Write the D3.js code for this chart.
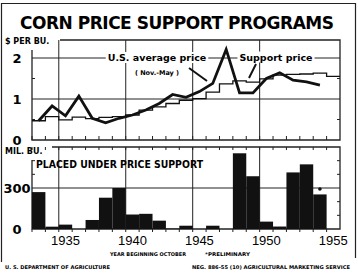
<!DOCTYPE html>
<html>
<head>
<meta charset="utf-8">
<script src="https://cdn.jsdelivr.net/npm/d3@7"></script>
<style>
  body { margin: 0; background: #fff; }
  svg { display: block; }
</style>
</head>
<body>
<div id="chart"></div>
<script>
var W = 358, H = 273;

// crop years, beginning October
var years = d3.range(1933, 1956);
// U.S. average price (Nov.-May), $ per bu., 1933-1954
var avgPrice = [0.47, 0.83, 0.59, 1.07, 0.53, 0.42, 0.53, 0.61, 0.73, 0.89, 1.11,
    1.04, 1.18, 1.38, 2.21, 1.15, 1.15, 1.50, 1.64, 1.46, 1.42, 1.34];
// support price, $ per bu., 1933-1955
var supportPrice = [0.47, 0.57, 0.49, 0.56, 0.52, 0.55, 0.57, 0.61, 0.73, 0.81, 0.89,
    0.97, 1.01, 1.17, 1.37, 1.44, 1.41, 1.49, 1.58, 1.60, 1.61, 1.63, 1.55];
// placed under price support, mil. bu., 1933-1954
var placed = [270, 17, 32, 0, 66, 229, 300, 106, 111, 61, 3,
    24, 0, 24, 0, 554, 386, 54, 18, 414, 473, 253];
var preliminaryYear = 1954;
var yearTicks = [1935, 1940, 1945, 1950, 1955];

var svg = d3.select('#chart').append('svg')
    .attr('width', W).attr('height', H)
    .style('font-family', '"DejaVu Sans", sans-serif');

var x = d3.scaleLinear().domain([1933, 1956]).range([32, 340]);
var yP = d3.scaleLinear().domain([0, 1]).range([140, 99]);
var yB = d3.scaleLinear().domain([0, 300]).range([229, 188]);

// outer frame
svg.append('path')
    .attr('d', 'M1.5,262 V3.5 H355.5 V258')
    .attr('fill', 'none').attr('stroke', '#222').attr('stroke-width', 1.2);

svg.append('text')
    .attr('x', 20).attr('y', 29)
    .attr('textLength', 314).attr('lengthAdjust', 'spacing')
    .style('font-size', '17px').style('font-weight', 'bold')
    .text('CORN PRICE SUPPORT PROGRAMS');

function frame(top, bottom, leftTop, topLeft) {
    var g = svg.append('g').attr('fill', 'none').attr('stroke', '#222');
    g.append('path')
        .attr('d', 'M' + x(1933) + ',' + leftTop + ' V' + bottom + ' H' + x(1956) +
            ' V' + top + ' H' + topLeft)
        .attr('stroke-width', 1.3);
    // major year grid
    g.selectAll('line.v').data([1935, 1940, 1945, 1950]).enter().append('line')
        .attr('x1', function (d) { return x(d); }).attr('x2', function (d) { return x(d); })
        .attr('y1', top).attr('y2', bottom).attr('stroke-width', 1);
    return g;
}

// ---------- price panel ----------
var gp = frame(40, 140, 50, 60);
gp.selectAll('line.t').data(years).enter().append('line')
    .attr('x1', function (d) { return x(d); }).attr('x2', function (d) { return x(d); })
    .attr('y1', 140).attr('y2', 136).attr('stroke-width', 1);
[0.5, 1.5].forEach(function (v) {
    gp.append('line').attr('x1', x(1933)).attr('x2', x(1933) + 3)
        .attr('y1', yP(v)).attr('y2', yP(v));
    gp.append('line').attr('x1', x(1956)).attr('x2', x(1956) - 3)
        .attr('y1', yP(v)).attr('y2', yP(v));
});
gp.append('line').attr('x1', x(1933)).attr('x2', x(1956))
    .attr('y1', yP(1)).attr('y2', yP(1)).attr('stroke-width', 1);
gp.append('line').attr('x1', x(1933)).attr('x2', x(1956))
    .attr('y1', yP(2)).attr('y2', yP(2)).attr('stroke-width', 1);

svg.append('text').attr('x', 5).attr('y', 44)
    .style('font-size', '8px').style('font-weight', 'bold').text('$ PER BU.');
[0, 1, 2].forEach(function (v) {
    svg.append('text').attr('x', 17).attr('y', yP(v) + 4.5)
        .attr('text-anchor', 'middle')
        .style('font-size', '13px').style('font-weight', 'bold').text(v);
});

// support price steps
var stepData = years.map(function (d, i) { return [d, supportPrice[i]]; });
stepData.push([1956, supportPrice[supportPrice.length - 1]]);
svg.append('path')
    .datum(stepData)
    .attr('fill', 'none').attr('stroke', '#111').attr('stroke-width', 1.3)
    .attr('d', d3.line().curve(d3.curveStepAfter)
        .x(function (d) { return x(d[0]); })
        .y(function (d) { return yP(d[1]); }));

// legend labels (white boxes break the grid line)
function label(txt, cx, cy, size, weight) {
    var t = svg.append('text').attr('x', cx).attr('y', cy)
        .attr('text-anchor', 'middle')
        .style('font-size', size + 'px').style('font-weight', weight).text(txt);
    var b = t.node().getBBox();
    svg.insert('rect', 'text:last-of-type')
        .attr('x', b.x - 2).attr('y', b.y).attr('width', b.width + 4).attr('height', b.height)
        .attr('fill', '#fff');
    t.raise();
    return t;
}
label('U.S. average price', 157, 61, 9.5, 'bold');
label('( Nov.-May )', 157, 74.5, 6.5, 'bold');
label('Support price', 276, 60.5, 9.5, 'bold');
svg.append('line').attr('x1', 189).attr('y1', 68).attr('x2', 207).attr('y2', 81)
    .attr('stroke', '#111').attr('stroke-width', 2);
svg.append('line').attr('x1', 256).attr('y1', 64).attr('x2', 249).attr('y2', 78)
    .attr('stroke', '#111').attr('stroke-width', 2);

// average price line
svg.append('path')
    .datum(avgPrice)
    .attr('fill', 'none').attr('stroke', '#111').attr('stroke-width', 2.8)
    .attr('stroke-linejoin', 'miter')
    .attr('d', d3.line()
        .x(function (d, i) { return x(years[i] + 0.5); })
        .y(function (d) { return yP(d); }));

// ---------- placed under support panel ----------
var gb = frame(147, 229, 160, 52);
gb.selectAll('line.t').data(years).enter().append('line')
    .attr('x1', function (d) { return x(d); }).attr('x2', function (d) { return x(d); })
    .attr('y1', 147).attr('y2', 150).attr('stroke-width', 1);
gb.selectAll('line.b').data(years).enter().append('line')
    .attr('x1', function (d) { return x(d); }).attr('x2', function (d) { return x(d); })
    .attr('y1', 229).attr('y2', 232).attr('stroke-width', 1);
[100, 200, 400, 500].forEach(function (v) {
    gb.append('line').attr('x1', x(1933)).attr('x2', x(1933) + 3)
        .attr('y1', yB(v)).attr('y2', yB(v));
    gb.append('line').attr('x1', x(1956)).attr('x2', x(1956) - 3)
        .attr('y1', yB(v)).attr('y2', yB(v));
});
gb.append('line').attr('x1', x(1933)).attr('x2', x(1956))
    .attr('y1', yB(300)).attr('y2', yB(300)).attr('stroke-width', 1);

svg.append('text').attr('x', 5).attr('y', 154)
    .style('font-size', '8px').style('font-weight', 'bold').text('MIL. BU.');
svg.append('text').attr('x', 36).attr('y', 168)
    .attr('textLength', 167).attr('lengthAdjust', 'spacingAndGlyphs')
    .style('font-size', '10px').style('font-weight', 'bold')
    .text('PLACED UNDER PRICE SUPPORT');
svg.append('text').attr('x', 17).attr('y', yB(300) + 4.5).attr('text-anchor', 'middle')
    .style('font-size', '13px').style('font-weight', 'bold').text('300');
svg.append('text').attr('x', 17).attr('y', yB(0) + 4.5).attr('text-anchor', 'middle')
    .style('font-size', '13px').style('font-weight', 'bold').text('0');

svg.selectAll('rect.bar').data(placed).enter().append('rect')
    .attr('class', 'bar')
    .attr('x', function (d, i) { return x(years[i]); })
    .attr('width', x(1934) - x(1933))
    .attr('y', function (d) { return yB(d); })
    .attr('height', function (d) { return yB(0) - yB(d); })
    .attr('fill', '#111');

svg.append('circle')
    .attr('cx', x(preliminaryYear + 0.5)).attr('cy', yB(300) + 1).attr('r', 1.8)
    .attr('fill', '#111');

// year labels
svg.selectAll('text.yr').data(yearTicks).enter().append('text')
    .attr('x', function (d) { return x(d + 0.5); }).attr('y', 245)
    .attr('text-anchor', 'middle')
    .style('font-family', '"Liberation Sans", sans-serif')
    .style('font-size', '13px').text(function (d) { return d; });

function small(txt, x0, y0, len) {
    svg.append('text').attr('x', x0).attr('y', y0)
        .attr('textLength', len).attr('lengthAdjust', 'spacingAndGlyphs')
        .style('font-size', '5px').style('font-weight', 'bold').text(txt);
}
small('YEAR BEGINNING OCTOBER', 110, 256, 76);
small('*PRELIMINARY', 205, 256, 45);
small('U. S. DEPARTMENT OF AGRICULTURE', 5, 269, 105);
small('NEG. 886-55 (10)  AGRICULTURAL MARKETING SERVICE', 192, 269, 158);
</script>
</body>
</html>
